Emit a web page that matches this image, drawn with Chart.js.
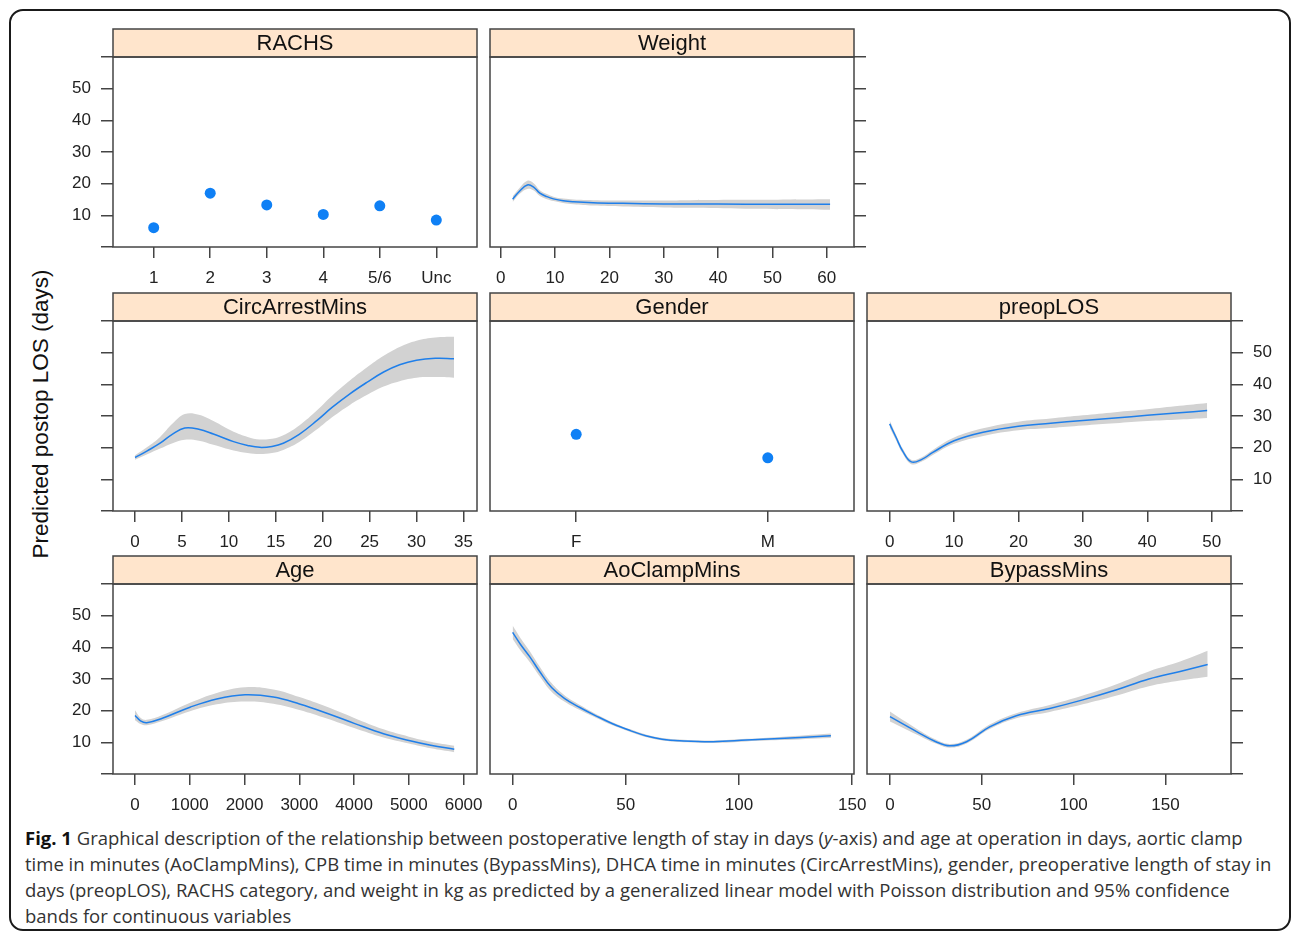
<!DOCTYPE html>
<html><head><meta charset="utf-8">
<script src="https://cdn.jsdelivr.net/npm/chart.js@4.4.0/dist/chart.umd.min.js"></script>
<style>
html,body{margin:0;padding:0;background:#fff;width:1296px;height:938px;overflow:hidden;position:relative;}
#frame{position:absolute;left:9px;top:9px;width:1278px;height:918px;border:2px solid #1a1a1a;border-radius:14px;box-sizing:content-box;}
canvas{position:absolute;}
#ytitle{position:absolute;left:41px;top:414px;transform:translate(-50%,-50%) rotate(-90deg);font:22.5px 'Liberation Sans',Arial,sans-serif;white-space:nowrap;color:#111;}
#caption{position:absolute;left:25px;top:825px;font-family:'Open Sans',sans-serif;font-size:18.5px;line-height:26px;color:#333;white-space:nowrap;}
#caption b{color:#111;}
</style></head>
<body>
<div id="frame"></div>
<div id="ytitle">Predicted postop LOS (days)</div>
<div id="caption">
<div><b>Fig. 1</b> Graphical description of the relationship between postoperative length of stay in days (<i>y</i>-axis) and age at operation in days, aortic clamp</div>
<div>time in minutes (AoClampMins), CPB time in minutes (BypassMins), DHCA time in minutes (CircArrestMins), gender, preoperative length of stay in</div>
<div>days (preopLOS), RACHS category, and weight in kg as predicted by a generalized linear model with Poisson distribution and 95% confidence</div>
<div>bands for continuous variables</div>
</div>
<script>
// ---------- data ----------
const yTicks = [0, 10, 20, 30, 40, 50, 60];
const yTickLabels = [10, 20, 30, 40, 50];

const rachsCats = ['1', '2', '3', '4', '5/6', 'Unc'];
const rachsLOS = [6.1, 17.0, 13.3, 10.3, 13.0, 8.5];

const genderCats = ['F', 'M'];
const genderLOS = [24.2, 16.8];

const weightX     = [2.2, 3.5, 4.9, 6.0, 7.2, 8.5, 9.7, 11.5, 13.4, 17, 22.5, 30, 34.8, 45, 60.6];
const weightFit   = [15.1, 17.7, 19.6, 19.0, 17.0, 15.9, 15.2, 14.6, 14.3, 14.0, 13.8, 13.6, 13.6, 13.5, 13.5];
const weightLower = [14.2, 16.8, 18.3, 17.9, 16.1, 15.1, 14.5, 13.9, 13.5, 13.1, 12.8, 12.5, 12.4, 12.1, 11.8];
const weightUpper = [16.0, 18.7, 20.9, 20.2, 17.9, 16.7, 15.9, 15.3, 15.0, 14.8, 14.7, 14.7, 14.8, 14.9, 15.1];
const weightTicks = [0, 10, 20, 30, 40, 50, 60];

const circX     = [0, 1.3, 2.67, 4, 5.3, 6.8, 8.35, 10.5, 12, 13.3, 14.6, 15.8, 17.5, 19.4, 21, 22.9, 24.7, 26.5, 28.2, 30, 32, 34];
const circFit   = [16.9, 19.0, 21.4, 24.3, 26.2, 25.8, 24.3, 21.9, 20.7, 20.1, 20.4, 21.4, 24.2, 28.6, 32.7, 37.0, 40.6, 43.9, 46.2, 47.6, 48.2, 48.1];
const circUpper = [17.6, 20.2, 23.4, 27.6, 30.6, 30.4, 28.4, 25.0, 23.4, 22.6, 22.8, 23.9, 27.0, 31.8, 36.4, 41.2, 45.3, 49.0, 51.8, 53.8, 54.8, 55.0];
const circLower = [16.2, 17.9, 19.7, 21.4, 22.5, 22.2, 20.9, 19.1, 18.3, 18.0, 18.3, 19.3, 21.8, 25.8, 29.6, 33.5, 36.6, 39.3, 41.0, 42.1, 42.3, 42.1];
const circTicks = [0, 5, 10, 15, 20, 25, 30, 35];

const preopX     = [0, 1, 2, 3.36, 5, 6.7, 10, 14.5, 20, 25, 30, 35, 40, 45, 49.3];
const preopFit   = [27.5, 23.2, 19.0, 15.5, 16.3, 18.5, 22.2, 24.9, 26.8, 27.7, 28.6, 29.4, 30.2, 31.0, 31.7];
const preopUpper = [28.6, 24.1, 19.8, 16.2, 17.0, 19.3, 23.2, 26.1, 28.2, 29.2, 30.2, 31.2, 32.1, 33.2, 34.1];
const preopLower = [26.4, 22.3, 18.2, 14.8, 15.6, 17.7, 21.2, 23.7, 25.5, 26.2, 27.0, 27.7, 28.4, 28.9, 29.4];
const preopTicks = [0, 10, 20, 30, 40, 50];

const ageX     = [0, 100, 214, 500, 1005, 1493, 2010, 2527, 3003, 3503, 4002, 4538, 5002, 5400, 5830];
const ageFit   = [18.5, 16.8, 16.2, 17.6, 21.1, 23.7, 25.0, 24.3, 22.1, 19.2, 16.0, 12.7, 10.6, 9.1, 7.8];
const ageUpper = [20.1, 17.8, 17.1, 18.6, 22.5, 25.6, 27.4, 26.7, 24.3, 21.2, 17.7, 14.1, 11.8, 10.2, 8.9];
const ageLower = [17.0, 15.8, 15.4, 16.7, 19.8, 22.0, 22.9, 22.2, 20.2, 17.5, 14.5, 11.5, 9.6, 8.1, 6.9];
const ageTicks = [0, 1000, 2000, 3000, 4000, 5000, 6000];

const aoX     = [0, 3.5, 7.6, 12, 17.2, 23, 29.7, 37, 44.4, 52, 59.2, 66, 73.9, 88.6, 103.4, 118, 140.6];
const aoFit   = [44.7, 40.9, 37.0, 32.3, 27.3, 23.8, 21.0, 18.3, 15.8, 13.7, 12.0, 11.0, 10.5, 10.2, 10.7, 11.2, 12.1];
const aoUpper = [46.9, 42.9, 38.8, 33.9, 28.7, 24.8, 21.8, 18.9, 16.3, 14.1, 12.4, 11.4, 10.9, 10.6, 11.1, 11.7, 12.8];
const aoLower = [42.6, 39.0, 35.3, 30.8, 26.0, 22.8, 20.2, 17.7, 15.3, 13.3, 11.6, 10.6, 10.1, 9.8, 10.3, 10.7, 11.4];
const aoTicks = [0, 50, 100, 150];

const bypassX     = [0, 14.5, 25, 32.6, 41.7, 54.3, 68.8, 87, 105, 123, 141, 158, 173];
const bypassFit   = [18.1, 13.4, 10.2, 8.9, 10.2, 14.9, 18.4, 20.7, 23.4, 26.5, 30.0, 32.4, 34.6];
const bypassUpper = [19.7, 14.3, 10.9, 9.5, 10.8, 15.6, 19.2, 21.8, 24.8, 28.3, 32.4, 35.5, 38.9];
const bypassLower = [16.6, 12.5, 9.6, 8.3, 9.6, 14.2, 17.6, 19.6, 22.0, 24.7, 27.7, 29.5, 30.7];
const bypassTicks = [0, 50, 100, 150];

// ---------- layout ----------
const COL_L = [113, 490, 867], PW = 364;
const ROW_T = [57, 321, 584], PH = 190;
const STRIP = 28, PAD = 30, YW = 55, XH = 50, TOPPAD = 40;
const FONT = "'Liberation Sans', Arial, Helvetica, sans-serif";
const LINE_BLUE = '#1f7fea', DOT_BLUE = '#0f80f5', BAND = '#d2d2d2', AXIS = '#444', TXT = '#222';

const panelPlugin = {
  id: 'panel',
  afterDraw(chart, args, opts) {
    const {ctx, chartArea: {left, top, right, bottom}} = chart;
    ctx.save();
    ctx.fillStyle = '#FFE5CC';
    ctx.fillRect(left, top - STRIP, right - left, STRIP);
    ctx.strokeStyle = AXIS; ctx.lineWidth = 1.5;
    ctx.strokeRect(left, top - STRIP, right - left, STRIP);
    ctx.strokeRect(left, top, right - left, bottom - top);
    ctx.fillStyle = '#111';
    ctx.font = "22px " + FONT;
    ctx.textAlign = 'center'; ctx.textBaseline = 'middle';
    ctx.fillText(opts.title, (left + right) / 2, top - STRIP / 2 + 1);
    ctx.restore();
  }
};

function toXY(xs, ys) { return xs.map((x, i) => ({x: x, y: ys[i]})); }

function makePanel(spec) {
  const L = COL_L[spec.col], T = ROW_T[spec.row];
  const leftW = spec.yPos === 'left' ? YW : 0, rightW = spec.yPos === 'right' ? YW : 0;
  const cw = PAD + leftW + PW + rightW + PAD, ch = TOPPAD + PH + XH;
  const cv = document.createElement('canvas');
  cv.width = cw; cv.height = ch;
  cv.style.left = (L - PAD - leftW) + 'px'; cv.style.top = (T - TOPPAD) + 'px';
  cv.style.width = cw + 'px'; cv.style.height = ch + 'px';
  document.body.appendChild(cv);

  let datasets;
  if (spec.cats) {
    datasets = [{
      data: spec.vals.map((v, i) => ({x: i, y: v})),
      pointRadius: 5.5, pointBackgroundColor: DOT_BLUE, pointBorderWidth: 0, showLine: false
    }];
  } else {
    datasets = [
      {data: toXY(spec.x, spec.fit), borderColor: LINE_BLUE, borderWidth: 1.5, pointRadius: 0, fill: false, tension: 0.4},
      {data: toXY(spec.x, spec.upper), borderWidth: 0, borderColor: 'rgba(0,0,0,0)', pointRadius: 0, fill: false, tension: 0.4},
      {data: toXY(spec.x, spec.lower), borderWidth: 0, borderColor: 'rgba(0,0,0,0)', backgroundColor: BAND, pointRadius: 0, fill: '-1', tension: 0.4}
    ];
  }
  const xTicks = spec.cats ? spec.cats.map((c, i) => i) : spec.ticks;
  new Chart(cv, {
    type: spec.cats ? 'scatter' : 'line',
    data: {datasets: datasets},
    plugins: [panelPlugin],
    options: {
      responsive: false, animation: false, devicePixelRatio: 1,
      layout: {padding: {left: PAD, right: PAD, top: TOPPAD, bottom: 0}},
      plugins: {legend: {display: false}, tooltip: {enabled: false}, panel: {title: spec.title}},
      scales: {
        x: {
          type: 'linear', min: spec.xmin, max: spec.xmax,
          afterBuildTicks: s => { s.ticks = xTicks.map(v => ({value: v})); },
          afterFit: s => { s.height = XH; },
          grid: {drawOnChartArea: false, drawTicks: true, tickLength: 11, color: AXIS, lineWidth: 1.5},
          border: {display: false},
          ticks: {font: {family: FONT, size: 17}, color: TXT, padding: 10, maxRotation: 0, autoSkip: false,
                  callback: v => spec.cats ? spec.cats[v] : String(v)}
        },
        y: {
          type: 'linear', display: !!spec.yPos, position: spec.yPos || 'left', min: 0, max: 60,
          afterBuildTicks: s => { s.ticks = yTicks.map(v => ({value: v})); },
          afterFit: s => { s.width = spec.yPos ? YW : 0; },
          grid: {drawOnChartArea: false, drawTicks: true, tickLength: 12, color: AXIS, lineWidth: 1.5},
          border: {display: false},
          ticks: {font: {family: FONT, size: 17}, color: TXT, padding: 10, autoSkip: false,
                  callback: v => (spec.yLabels && yTickLabels.includes(v)) ? String(v) : ''}
        }
      }
    }
  });
}

makePanel({col: 0, row: 0, title: 'RACHS', cats: rachsCats, vals: rachsLOS, xmin: -0.72, xmax: 5.72, yPos: 'left', yLabels: true});
makePanel({col: 1, row: 0, title: 'Weight', x: weightX, fit: weightFit, upper: weightUpper, lower: weightLower, ticks: weightTicks, xmin: -1.97, xmax: 65, yPos: 'right', yLabels: false});
makePanel({col: 0, row: 1, title: 'CircArrestMins', x: circX, fit: circFit, upper: circUpper, lower: circLower, ticks: circTicks, xmin: -2.35, xmax: 36.45, yPos: 'left', yLabels: false});
makePanel({col: 1, row: 1, title: 'Gender', cats: genderCats, vals: genderLOS, xmin: -0.45, xmax: 1.45, yPos: null});
makePanel({col: 2, row: 1, title: 'preopLOS', x: preopX, fit: preopFit, upper: preopUpper, lower: preopLower, ticks: preopTicks, xmin: -3.52, xmax: 53, yPos: 'right', yLabels: true});
makePanel({col: 0, row: 2, title: 'Age', x: ageX, fit: ageFit, upper: ageUpper, lower: ageLower, ticks: ageTicks, xmin: -402, xmax: 6245, yPos: 'left', yLabels: true});
makePanel({col: 1, row: 2, title: 'AoClampMins', x: aoX, fit: aoFit, upper: aoUpper, lower: aoLower, ticks: aoTicks, xmin: -10, xmax: 150.8, yPos: null});
makePanel({col: 2, row: 2, title: 'BypassMins', x: bypassX, fit: bypassFit, upper: bypassUpper, lower: bypassLower, ticks: bypassTicks, xmin: -12.5, xmax: 185.7, yPos: 'right', yLabels: false});
</script>
</body></html>
